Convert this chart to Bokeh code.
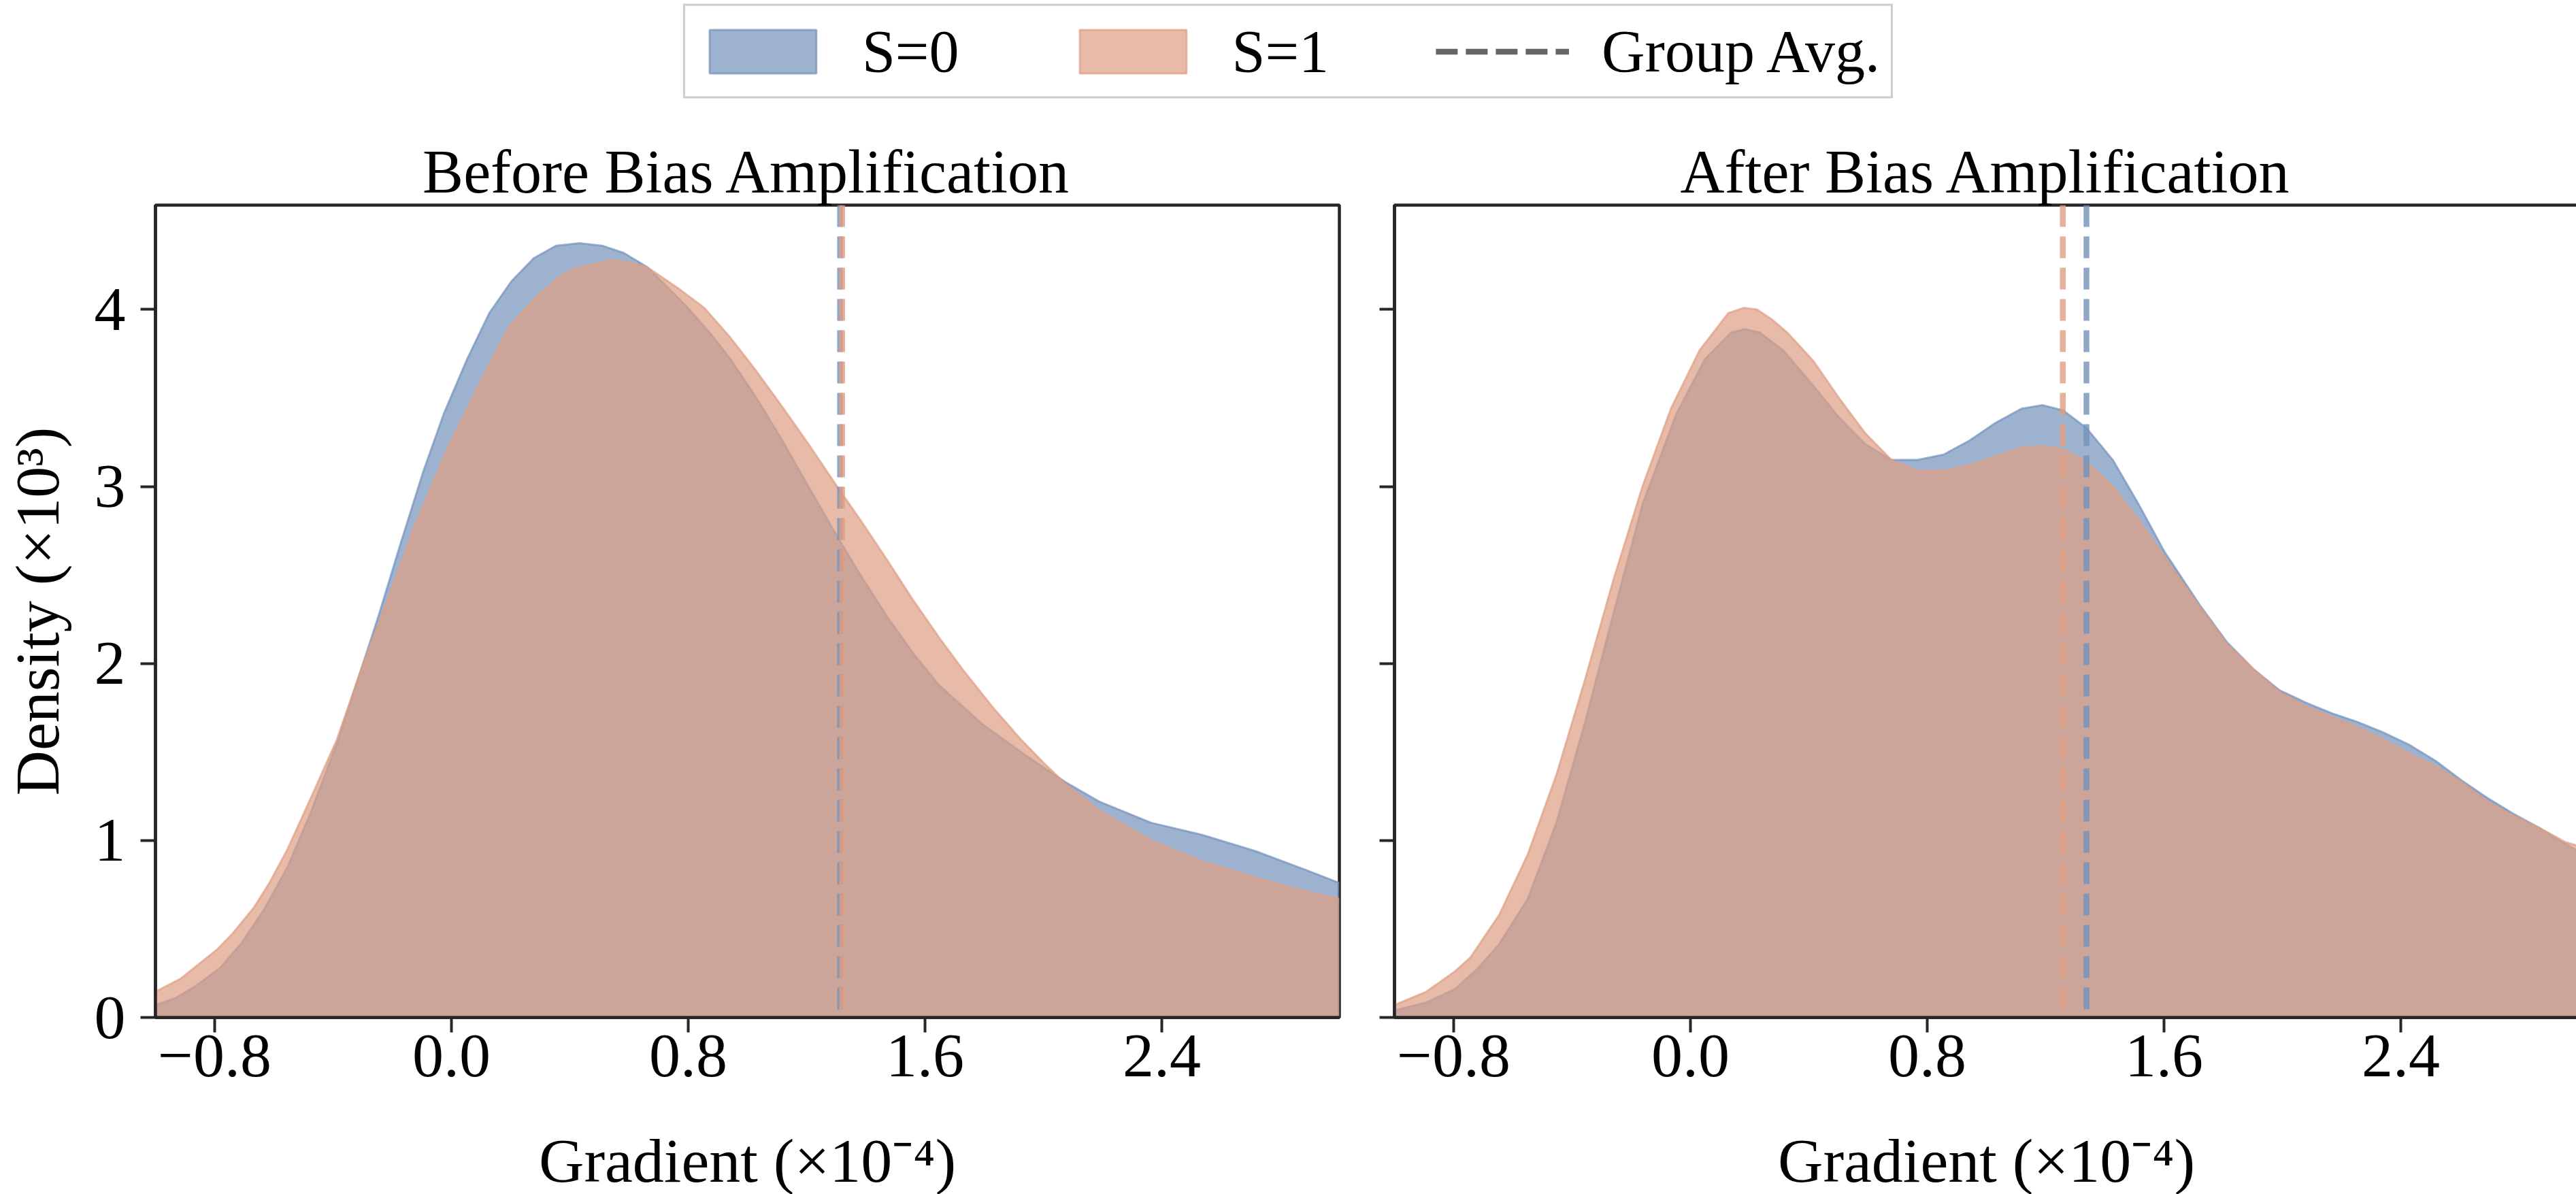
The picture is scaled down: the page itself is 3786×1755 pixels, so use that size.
from bokeh.plotting import figure
from bokeh.models import Range1d, FixedTicker, Span, Legend, LegendItem, CustomJSTickFormatter
from bokeh.layouts import column, row
from bokeh.embed import file_html
from bokeh.resources import INLINE

# ---------------- data ----------------
PANEL_TITLES = ["Before Bias Amplification", "After Bias Amplification"]
SERIES_LABELS = ["S=0", "S=1"]
AVG_LABEL = "Group Avg."
X_LABEL = "Gradient (\u00d710\u207b\u2074)"
Y_LABEL = "Density (\u00d710\u00b3)"
X_TICKS = [-0.8, 0.0, 0.8, 1.6, 2.4]
Y_TICKS = [0, 1, 2, 3, 4]
X_MIN, X_MAX = -1.0, 3.0
Y_MAX = 4.59

# Before – S=0
before_s0_x = [-1.0, -0.932, -0.862, -0.782, -0.712, -0.633, -0.554, -0.475, -0.387, -0.316,
               -0.246, -0.175, -0.096, -0.026, 0.053, 0.128, 0.203, 0.278, 0.353, 0.432,
               0.511, 0.582, 0.661, 0.722, 0.793, 0.872, 0.943, 1.031, 1.118, 1.206,
               1.303, 1.382, 1.470, 1.559, 1.646, 1.792, 1.924, 2.074, 2.188, 2.364,
               2.540, 2.716, 2.892, 3.0]
before_s0_y = [0.07, 0.11, 0.18, 0.28, 0.415, 0.61, 0.85, 1.16, 1.55, 1.91,
               2.27, 2.66, 3.08, 3.41, 3.72, 3.98, 4.16, 4.29, 4.36, 4.375,
               4.36, 4.32, 4.24, 4.14, 4.02, 3.87, 3.72, 3.50, 3.26, 3.00,
               2.72, 2.50, 2.27, 2.06, 1.88, 1.66, 1.50, 1.33, 1.22, 1.10,
               1.03, 0.94, 0.83, 0.76]
# Before – S=1
before_s1_x = [-1.0, -0.914, -0.791, -0.739, -0.668, -0.615, -0.554, -0.475, -0.387, -0.298,
               -0.211, -0.123, -0.017, 0.097, 0.194, 0.291, 0.370, 0.415, 0.538, 0.590,
               0.661, 0.766, 0.854, 0.943, 1.031, 1.118, 1.206, 1.303, 1.382, 1.470,
               1.559, 1.646, 1.730, 1.830, 1.924, 2.000, 2.074, 2.188, 2.364, 2.540,
               2.716, 2.892, 3.0]
before_s1_y = [0.145, 0.22, 0.385, 0.475, 0.62, 0.76, 0.95, 1.24, 1.57, 2.0,
               2.38, 2.78, 3.2, 3.59, 3.9, 4.08, 4.19, 4.23, 4.28, 4.27,
               4.24, 4.12, 4.01, 3.84, 3.65, 3.45, 3.24, 3.00, 2.81, 2.59,
               2.36, 2.15, 1.96, 1.75, 1.57, 1.44, 1.32, 1.17, 1.00, 0.88,
               0.79, 0.71, 0.67]
# After – S=0
after_s0_x = [-1.0, -0.893, -0.796, -0.717, -0.646, -0.550, -0.453, -0.356, -0.259, -0.162,
              -0.048, 0.049, 0.137, 0.185, 0.234, 0.313, 0.415, 0.502, 0.591, 0.679,
              0.767, 0.855, 0.943, 1.031, 1.119, 1.189, 1.259, 1.338, 1.427, 1.514,
              1.602, 1.725, 1.813, 1.901, 1.989, 2.077, 2.165, 2.253, 2.341, 2.429,
              2.517, 2.605, 2.693, 2.781, 2.869, 2.957, 3.0]
after_s0_y = [0.04, 0.085, 0.16, 0.28, 0.415, 0.67, 1.10, 1.67, 2.29, 2.90,
              3.41, 3.72, 3.87, 3.89, 3.87, 3.77, 3.57, 3.39, 3.24, 3.15,
              3.15, 3.18, 3.26, 3.36, 3.44, 3.46, 3.43, 3.33, 3.15, 2.90,
              2.63, 2.32, 2.12, 1.97, 1.85, 1.78, 1.72, 1.67, 1.61, 1.54,
              1.45, 1.34, 1.24, 1.15, 1.07, 0.98, 0.94]
# After – S=1
after_s1_x = [-1.0, -0.893, -0.796, -0.743, -0.646, -0.550, -0.453, -0.356, -0.259, -0.162,
              -0.066, 0.031, 0.128, 0.181, 0.225, 0.278, 0.327, 0.415, 0.502, 0.591,
              0.679, 0.767, 0.855, 0.943, 1.031, 1.119, 1.189, 1.259, 1.338, 1.427,
              1.514, 1.602, 1.725, 1.813, 1.901, 1.989, 2.077, 2.165, 2.253, 2.341,
              2.429, 2.517, 2.605, 2.693, 2.781, 2.869, 2.957, 3.0]
after_s1_y = [0.07, 0.145, 0.26, 0.34, 0.58, 0.92, 1.37, 1.91, 2.48, 3.00,
              3.44, 3.77, 3.98, 4.01, 4.00, 3.94, 3.87, 3.71, 3.50, 3.30,
              3.15, 3.09, 3.09, 3.12, 3.17, 3.22, 3.23, 3.21, 3.14, 3.00,
              2.81, 2.60, 2.31, 2.11, 1.97, 1.84, 1.76, 1.70, 1.64, 1.57,
              1.49, 1.42, 1.33, 1.22, 1.14, 1.07, 0.99, 0.97]
# group averages
before_avg = [1.313, 1.320]   # S=0, S=1
after_avg = [1.338, 1.258]    # S=0, S=1

# ---------------- style ----------------
FONT = "Liberation Serif"
INK = "#262626"
BLUE = "#7392ba"
ORANGE = "#de9e83"
AVG_GRAY = "#666666"
FILL_ALPHA = 0.7
TXT = "92px"


def make_panel(title, s0x, s0y, s1x, s1y, avgs, first):
    p = figure(frame_width=1740, frame_height=1194,
               x_range=Range1d(X_MIN, X_MAX), y_range=Range1d(0, Y_MAX),
               output_backend="svg", toolbar_location=None,
               min_border_top=151, min_border_bottom=260,
               min_border_left=222 if first else 41,
               min_border_right=40 if first else 3,
               title=title)
    p.title.align = "center"
    p.title.text_font = FONT
    p.title.text_font_size = "90px"
    p.title.text_font_style = "normal"
    p.title.text_color = "black"
    p.title.standoff = 0
    p.background_fill_color = "white"
    p.border_fill_color = "white"
    p.outline_line_color = INK
    p.outline_line_width = 4.5
    p.outline_line_alpha = 1.0
    p.xgrid.grid_line_color = None
    p.ygrid.grid_line_color = None

    for ax in (p.xaxis, p.yaxis):
        ax.axis_line_color = INK
        ax.axis_line_width = 4.5
        ax.major_tick_line_color = INK
        ax.major_tick_line_width = 4
        ax.major_tick_out = 22
        ax.major_tick_in = 0
        ax.minor_tick_line_color = None
        ax.major_label_text_font = FONT
        ax.major_label_text_font_size = TXT
        ax.major_label_text_color = "black"
        ax.axis_label_text_font = FONT
        ax.axis_label_text_font_size = TXT
        ax.axis_label_text_font_style = "normal"
        ax.axis_label_text_color = "black"

    p.xaxis.ticker = FixedTicker(ticks=X_TICKS)
    p.xaxis.formatter = CustomJSTickFormatter(code="return tick.toFixed(1).replace('-', '\u2212');")
    p.xaxis.major_label_standoff = 4
    p.xaxis.axis_label = X_LABEL
    p.xaxis.axis_label_standoff = 70

    p.yaxis.ticker = FixedTicker(ticks=Y_TICKS)
    if first:
        p.yaxis.formatter = CustomJSTickFormatter(code="return tick.toFixed(0);")
        p.yaxis.major_label_standoff = 22
        p.yaxis.axis_label = Y_LABEL
        p.yaxis.axis_label_standoff = 30
    else:
        p.yaxis.formatter = CustomJSTickFormatter(code="return '';")
        p.yaxis.major_label_standoff = 0

    p.varea(x=s0x, y1=0, y2=s0y, fill_color=BLUE, fill_alpha=FILL_ALPHA)
    p.line(x=s0x, y=s0y, line_color=BLUE, line_alpha=FILL_ALPHA, line_width=3)
    p.varea(x=s1x, y1=0, y2=s1y, fill_color=ORANGE, fill_alpha=FILL_ALPHA)
    p.line(x=s1x, y=s1y, line_color=ORANGE, line_alpha=FILL_ALPHA, line_width=3)

    for loc, col in zip(avgs, (BLUE, ORANGE)):
        p.add_layout(Span(location=loc, dimension="height", line_color=col,
                          line_alpha=0.8, line_width=8.5, line_dash="32 14"))
    return p


p1 = make_panel(PANEL_TITLES[0], before_s0_x, before_s0_y, before_s1_x, before_s1_y, before_avg, True)
p2 = make_panel(PANEL_TITLES[1], after_s0_x, after_s0_y, after_s1_x, after_s1_y, after_avg, False)

# legend strip: proxy renderers whose data lie outside the visible ranges
leg = figure(width=3786, height=150, x_range=Range1d(100, 101), y_range=Range1d(100, 101),
             output_backend="svg", toolbar_location=None, min_border=0,
             x_axis_location=None, y_axis_location=None)
leg.outline_line_color = None
leg.xgrid.grid_line_color = None
leg.ygrid.grid_line_color = None
r0 = leg.patch(x=before_s0_x, y=before_s0_y, fill_color=BLUE, fill_alpha=FILL_ALPHA,
               line_color=BLUE, line_alpha=FILL_ALPHA, line_width=3)
r1 = leg.patch(x=before_s1_x, y=before_s1_y, fill_color=ORANGE, fill_alpha=FILL_ALPHA,
               line_color=ORANGE, line_alpha=FILL_ALPHA, line_width=3)
r2 = leg.line(x=before_s0_x, y=before_s0_y, line_color=AVG_GRAY, line_width=8.5, line_dash="32 12")
legend = Legend(items=[LegendItem(label=SERIES_LABELS[0], renderers=[r0]),
                       LegendItem(label=SERIES_LABELS[1], renderers=[r1]),
                       LegendItem(label=AVG_LABEL, renderers=[r2])],
                orientation="horizontal", location="center",
                glyph_width=196, glyph_height=80, label_standoff=48, spacing=157,
                padding=16, margin=0,
                border_line_color="#cccccc", border_line_width=3, border_line_alpha=1.0,
                background_fill_color="white", background_fill_alpha=1.0,
                label_text_font=FONT, label_text_font_size="88px", label_text_color="black")
leg.add_layout(legend, "center")

layout = column(leg, row(p1, p2, spacing=0), spacing=0)
open("out.html", "w").write(file_html(layout, INLINE))
